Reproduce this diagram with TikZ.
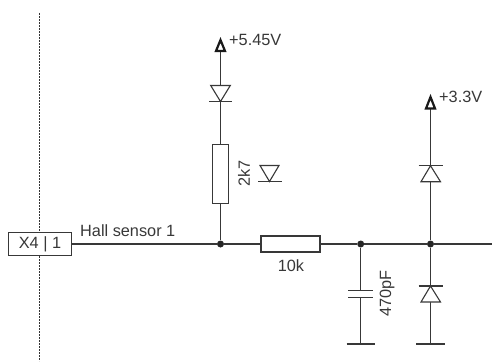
\documentclass[tikz,border=0pt]{standalone}
\usepackage{fontspec}
\setmainfont{Liberation Sans}
\definecolor{ink}{gray}{0.22}
\tikzset{x=1pt,y=-1pt,
wire/.style={draw=ink,line width=1.1pt},
lab/.style={font=\fontsize{16.3}{18}\selectfont,text=ink,inner sep=0pt},
res/.style={draw=ink,line width=1.1pt,fill=white},
dio/.style={draw=ink,line width=1.1pt,fill=white},
tip/.style={draw=black!90,line width=2.2pt,fill=white,line join=miter},
dot/.style={circle,fill=black!85,inner sep=0pt,minimum size=7pt}}
\begin{document}
\begin{tikzpicture}
\useasboundingbox (0,0) rectangle (492,361);
\draw[line width=1.6pt,dash pattern=on 2pt off 1pt,black!80] (39.5,13)--(39.5,361);
\coordinate (e) at (492,244);
\coordinate (p1) at (220.5,48);
\coordinate (p2) at (430.5,106);
\coordinate (g1) at (360.7,344);
\coordinate (g2) at (430.5,344);
\node[dot] (j1) at (220.5,244) {};
\node[dot] (j2) at (360.7,244) {};
\node[dot] (j3) at (430.5,244) {};
\node[draw=ink,line width=1pt,fill=white,minimum width=63pt,minimum height=23pt,inner sep=0pt,lab] (x4) at (40,244) {X4 | 1};
\draw[wire] (x4.east)--(j1)--(j2)--(j3)--(e);
\draw[wire] (j1)--(p1);
\draw[wire] (j2)--(g1);
\draw[wire] (j3)--(p2);
\draw[wire] (j3)--(g2);
\draw[wire] (346.5,344)--(375,344) (416,344)--(444.5,344);
\draw[res] (212.5,144.5) rectangle (228.5,203.5);
\draw[res] (261,236) rectangle (320,252);
\fill[white] (346,291) rectangle (375,297);
\draw[wire] (348,290.5)--(373,290.5) (348,297.5)--(373,297.5);
\draw[dio] (210.7,85.5)--(230.3,85.5)--(220.5,101.5)--cycle;
\draw[wire] (209,101.5)--(232,101.5);
\draw[dio] (260,165.5)--(279,165.5)--(269.5,181.5)--cycle;
\draw[wire] (258,181.5)--(281.5,181.5);
\draw[dio] (421,181.7)--(440.5,181.7)--(430.5,165.7)--cycle;
\draw[wire] (418.5,165.7)--(442.5,165.7);
\draw[dio] (421,302)--(440.5,302)--(430.5,286)--cycle;
\draw[wire] (418.5,286)--(442.5,286);
\draw[tip] (216,51)--(225,51)--(220.5,40)--cycle;
\draw[tip] (426,108.5)--(435,108.5)--(430.5,97)--cycle;
\node[lab,anchor=west] at (229,40) {+5.45V};
\node[lab,anchor=west] at (439,97) {+3.3V};
\node[lab,anchor=west] at (80,231) {Hall sensor 1};
\node[lab] at (291,266) {10k};
\node[lab,rotate=90] at (244,173.5) {2k7};
\node[lab,rotate=90] at (387,293.5) {470pF};
\end{tikzpicture}
\end{document}
